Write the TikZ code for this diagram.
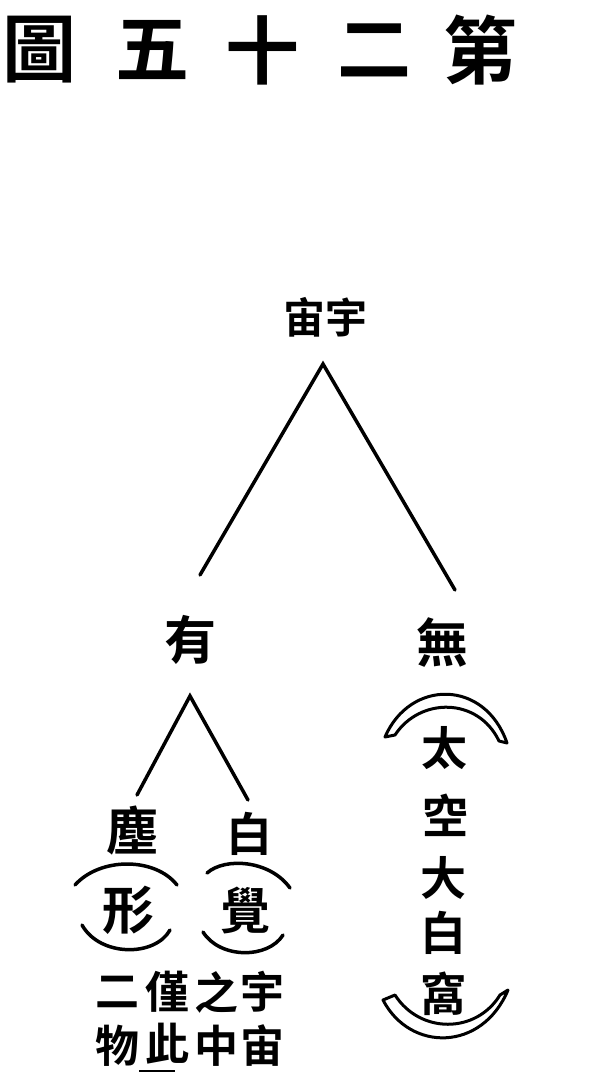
\documentclass[tikz,border=0pt]{standalone}
\usepackage{fontspec}
\newfontfamily\cjk{Noto Sans CJK TC}[BoldFont={Noto Sans CJK TC Bold}]
\begin{document}
\begin{tikzpicture}[x=1pt,y=-1pt,
  ch/.style={inner sep=0pt,font=\cjk\bfseries\fontsize{#1}{#1}\selectfont},
  ch/.default=48,
  ln/.style={line width=3.5pt,line cap=round},
  arc/.style={line width=3.5pt,line cap=round},
  band/.style={line width=3pt,line join=round,fill=white}]
\useasboundingbox (0,0) rectangle (596,1091);
% title
\node[ch=74] (t1) at (39,50) {圖};
\node[ch=74] (t2) at (152,50) {五};
\node[ch=74] (t3) at (262,50) {十};
\node[ch=74] (t4) at (374,50) {二};
\node[ch=74] (t5) at (480,50) {第};
% root
\node[ch=42] (root) at (325,317) {宙宇};
\coordinate (apex) at (323,364);
\coordinate (lend) at (200,575);
\coordinate (rend) at (455,590);
\draw[ln] (lend) -- (apex) -- (rend);
% level 2
\node[ch=52] (you) at (190,640) {有};
\node[ch=52] (wu) at (442,643) {無};
\coordinate (apex2) at (190,696);
\coordinate (l2) at (137,795);
\coordinate (r2) at (248,800);
\draw[ln] (l2) -- (apex2) -- (r2);
% level 3
\node[ch=52] (chen) at (132,831) {塵};
\node[ch=46] (bai) at (249,834) {白};
\node[ch=52] (xing) at (128,910) {形};
\node[ch=50] (jue) at (245,910) {覺};
\draw[arc] (75,885) .. controls (100,857) and (155,857) .. (177,885);
\draw[arc] (82,925) .. controls (100,957) and (155,957) .. (170,930);
\draw[arc] (207,873) .. controls (225,857) and (270,860) .. (290,888);
\draw[arc] (203,932) .. controls (220,959) and (268,959) .. (283,935);
% bottom note
\node[ch=44] (n1) at (262,992) {宇};
\node[ch=44] (n2) at (262,1046) {宙};
\node[ch=44] (n3) at (216,992) {之};
\node[ch=44] (n4) at (216,1046) {中};
\node[ch=44] (n5) at (167,992) {僅};
\node[ch=44] (n6) at (167,1044) {此};
\node[ch=44] (n7) at (117,992) {二};
\node[ch=44] (n8) at (117,1046) {物};
\draw[line width=2.5pt] (139,1071) -- (175,1071);
% wu column
\node[ch=46] (w1) at (444,748) {太};
\node[ch=46] (w2) at (445,815) {空};
\node[ch=46] (w3) at (443,878) {大};
\node[ch=46] (w4) at (443,933) {白};
\node[ch=46] (w5) at (443,994) {窩};
\draw[band] (385,737) .. controls (410,679) and (485,679) .. (507,743)
  -- (499,741) .. controls (478,697) and (420,697) .. (395,735) -- cycle;
\draw[band] (383,1000) .. controls (410,1052) and (482,1052) .. (508,990)
  -- (500,995) .. controls (476,1034) and (420,1034) .. (395,995) -- cycle;
\end{tikzpicture}
\end{document}
